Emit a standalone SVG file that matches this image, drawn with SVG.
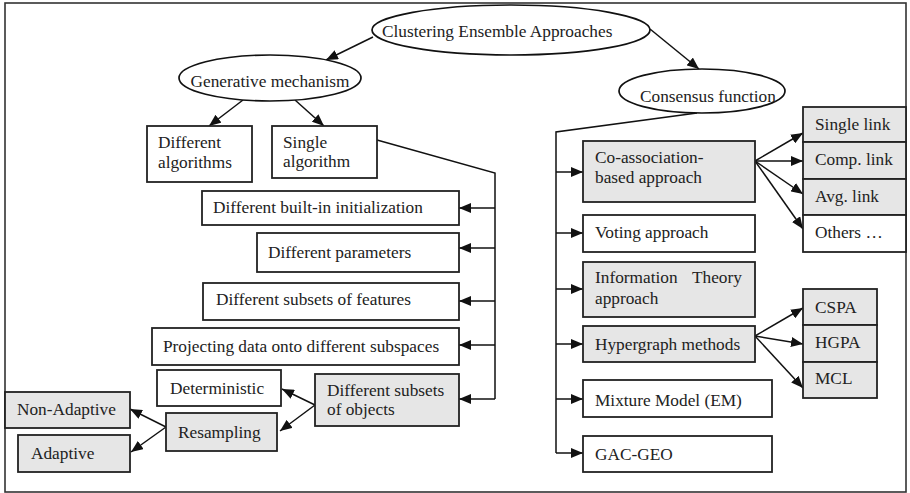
<svg xmlns="http://www.w3.org/2000/svg" width="910" height="493" viewBox="0 0 910 493">
<defs>
<marker id="ah" markerUnits="userSpaceOnUse" markerWidth="12" markerHeight="10" refX="12" refY="5" orient="auto">
<path d="M0,0 L12,5 L0,10 z" fill="#111"/>
</marker>
<style>
text{font-family:"Liberation Serif","Times New Roman",serif;font-size:17.3px;fill:#222}
.b{fill:#fff;stroke:#222;stroke-width:1.8}
.g{fill:#e6e6e6;stroke:#222;stroke-width:1.8}
.e{fill:#fff;stroke:#111;stroke-width:1.7}
.c line,.c polyline{stroke:#111;stroke-width:1.5;fill:none}
.a{marker-end:url(#ah)}
</style>
</defs>
<rect x="0" y="0" width="910" height="493" fill="#fff"/>
<rect x="5" y="3" width="901" height="489" fill="none" stroke="#333" stroke-width="1.6"/>

<g class="c" id="connectors">
<line class="a" x1="373" y1="37" x2="326" y2="60"/>
<line class="a" x1="650" y1="29" x2="699" y2="69"/>
<line class="a" x1="243" y1="100" x2="209" y2="126"/>
<line class="a" x1="295" y1="100" x2="324" y2="126"/>
<polyline points="377,140 495,173 495,399"/>
<line class="a" x1="495" y1="208" x2="459" y2="208"/>
<line class="a" x1="495" y1="248" x2="459" y2="248"/>
<line class="a" x1="495" y1="301" x2="459" y2="301"/>
<line class="a" x1="495" y1="345" x2="459" y2="345"/>
<line class="a" x1="495" y1="399" x2="459" y2="399"/>
<polyline points="697,113 556,132 556,453"/>
<line class="a" x1="556" y1="172" x2="583" y2="172"/>
<line class="a" x1="556" y1="233" x2="583" y2="233"/>
<line class="a" x1="556" y1="289" x2="583" y2="289"/>
<line class="a" x1="556" y1="344" x2="583" y2="344"/>
<line class="a" x1="556" y1="399" x2="583" y2="399"/>
<line class="a" x1="556" y1="453" x2="583" y2="453"/>
<line class="a" x1="755" y1="161" x2="803" y2="133"/>
<line class="a" x1="755" y1="161" x2="803" y2="161"/>
<line class="a" x1="755" y1="161" x2="803" y2="194"/>
<line class="a" x1="755" y1="161" x2="803" y2="229"/>
<line class="a" x1="755" y1="336" x2="803" y2="308"/>
<line class="a" x1="755" y1="336" x2="803" y2="344"/>
<line class="a" x1="755" y1="336" x2="803" y2="388"/>
<line class="a" x1="315" y1="405" x2="282" y2="389"/>
<line class="a" x1="315" y1="405" x2="280" y2="431"/>
<line class="a" x1="166" y1="427" x2="130" y2="409"/>
<line class="a" x1="166" y1="427" x2="131" y2="452"/>
</g>

<g id="root"><ellipse class="e" cx="511" cy="30" rx="139" ry="25"/><text x="382" y="37">Clustering Ensemble Approaches</text></g>
<g id="generative"><ellipse class="e" cx="270" cy="78" rx="91" ry="23"/><text x="270" y="87" text-anchor="middle">Generative mechanism</text></g>
<g id="consensus"><ellipse class="e" cx="702" cy="91" rx="83" ry="22"/><text x="640" y="102">Consensus function</text></g>

<g id="diff-algorithms"><rect class="b" x="147" y="126" width="105" height="56"/><text x="158" y="148">Different</text><text x="158" y="168">algorithms</text></g>
<g id="single-algorithm"><rect class="b" x="272" y="126" width="105" height="52"/><text x="283" y="148">Single</text><text x="283" y="167">algorithm</text></g>
<g id="builtin"><rect class="b" x="202" y="191" width="257" height="34"/><text x="213" y="213">Different built-in initialization</text></g>
<g id="params"><rect class="b" x="257" y="233" width="202" height="39"/><text x="268" y="258">Different parameters</text></g>
<g id="features"><rect class="b" x="203" y="283" width="256" height="37"/><text x="216" y="305">Different subsets of features</text></g>
<g id="projecting"><rect class="b" x="152" y="328" width="307" height="37"/><text x="163" y="352">Projecting data onto different subspaces</text></g>
<g id="objects"><rect class="g" x="315" y="374" width="144" height="52"/><text x="327" y="396">Different subsets</text><text x="327" y="415">of objects</text></g>
<g id="deterministic"><rect class="b" x="157" y="370" width="124" height="36"/><text x="170" y="394">Deterministic</text></g>
<g id="resampling"><rect class="g" x="166" y="413" width="111" height="38"/><text x="178" y="438">Resampling</text></g>
<g id="non-adaptive"><rect class="g" x="5" y="392" width="125" height="36"/><text x="17" y="415">Non-Adaptive</text></g>
<g id="adaptive"><rect class="g" x="18" y="435" width="112" height="37"/><text x="31" y="459">Adaptive</text></g>

<g id="coassoc"><rect class="g" x="583" y="141" width="172" height="61"/><text x="595" y="163">Co-association-</text><text x="595" y="183">based approach</text></g>
<g id="voting"><rect class="b" x="583" y="215" width="172" height="37"/><text x="595" y="238">Voting approach</text></g>
<g id="infotheory"><rect class="g" x="583" y="262" width="172" height="55"/><text x="595" y="283">Information</text><text x="692" y="283">Theory</text><text x="595" y="304">approach</text></g>
<g id="hypergraph"><rect class="g" x="583" y="326" width="172" height="36"/><text x="595" y="350">Hypergraph methods</text></g>
<g id="mixture"><rect class="b" x="583" y="380" width="189" height="37"/><text x="595" y="406">Mixture Model (EM)</text></g>
<g id="gacgeo"><rect class="b" x="583" y="436" width="189" height="36"/><text x="595" y="460">GAC-GEO</text></g>

<g id="single-link"><rect class="g" x="803" y="107" width="103" height="35"/><text x="815" y="130">Single link</text></g>
<g id="comp-link"><rect class="g" x="803" y="142" width="103" height="37"/><text x="815" y="165">Comp. link</text></g>
<g id="avg-link"><rect class="g" x="803" y="179" width="103" height="36"/><text x="815" y="202">Avg. link</text></g>
<g id="others"><rect class="b" x="803" y="215" width="103" height="37"/><text x="815" y="238">Others …</text></g>
<g id="cspa"><rect class="g" x="803" y="289" width="74" height="36"/><text x="815" y="313">CSPA</text></g>
<g id="hgpa"><rect class="g" x="803" y="325" width="74" height="37"/><text x="815" y="348">HGPA</text></g>
<g id="mcl"><rect class="g" x="803" y="362" width="74" height="36"/><text x="815" y="384">MCL</text></g>
</svg>
